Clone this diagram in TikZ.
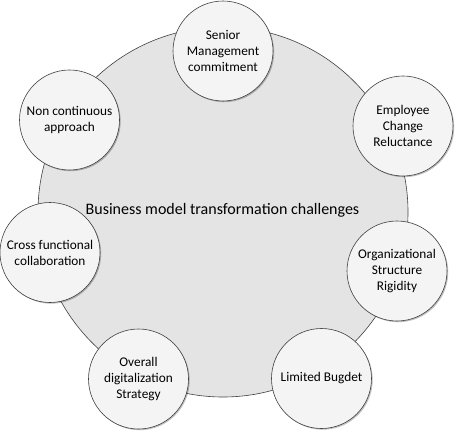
\documentclass[tikz,border=0pt]{standalone}
\usepackage{fontspec}
\setmainfont{Carlito}
\usetikzlibrary{shadows}
\definecolor{bigfill}{HTML}{E4E4E4}
\definecolor{smallfill}{HTML}{F4F4F4}
\definecolor{edge}{HTML}{404040}
\tikzset{
  bigcircle/.style={circle, draw=edge, line width=0.6pt, fill=bigfill, minimum size=370pt, inner sep=0pt},
  item/.style={circle, draw=edge, line width=0.6pt, fill=smallfill, minimum size=100pt, inner sep=0pt,
    align=center, font=\fontsize{13.3}{16}\selectfont, text=black,
    drop shadow={shadow xshift=1.2pt, shadow yshift=-1.2pt, opacity=0.25, fill=black}},
}
\begin{document}
\begin{tikzpicture}[x=1pt,y=-1pt]
\useasboundingbox (0,0) rectangle (462,438);
\node[bigcircle] (big) at (223,212) {};
\node[font=\fontsize{16}{18}\selectfont, text=black] (title) at (222.5,210) {Business model transformation challenges};
\node[item] (senior) at (223,51) {Senior\\Management\\commitment};
\node[item] (employee) at (403,126) {Employee\\Change\\Reluctance};
\node[item] (org) at (397,271) {Organizational\\Structure\\Rigidity};
\node[item] (budget) at (321.5,378.5) {Limited Bugdet};
\node[item] (overall) at (138.5,379) {Overall\\digitalization\\Strategy};
\node[item] (cross) at (50,252.5) {Cross functional\\collaboration};
\node[item] (noncont) at (69.5,120) {Non continuous\\approach};
\end{tikzpicture}
\end{document}
